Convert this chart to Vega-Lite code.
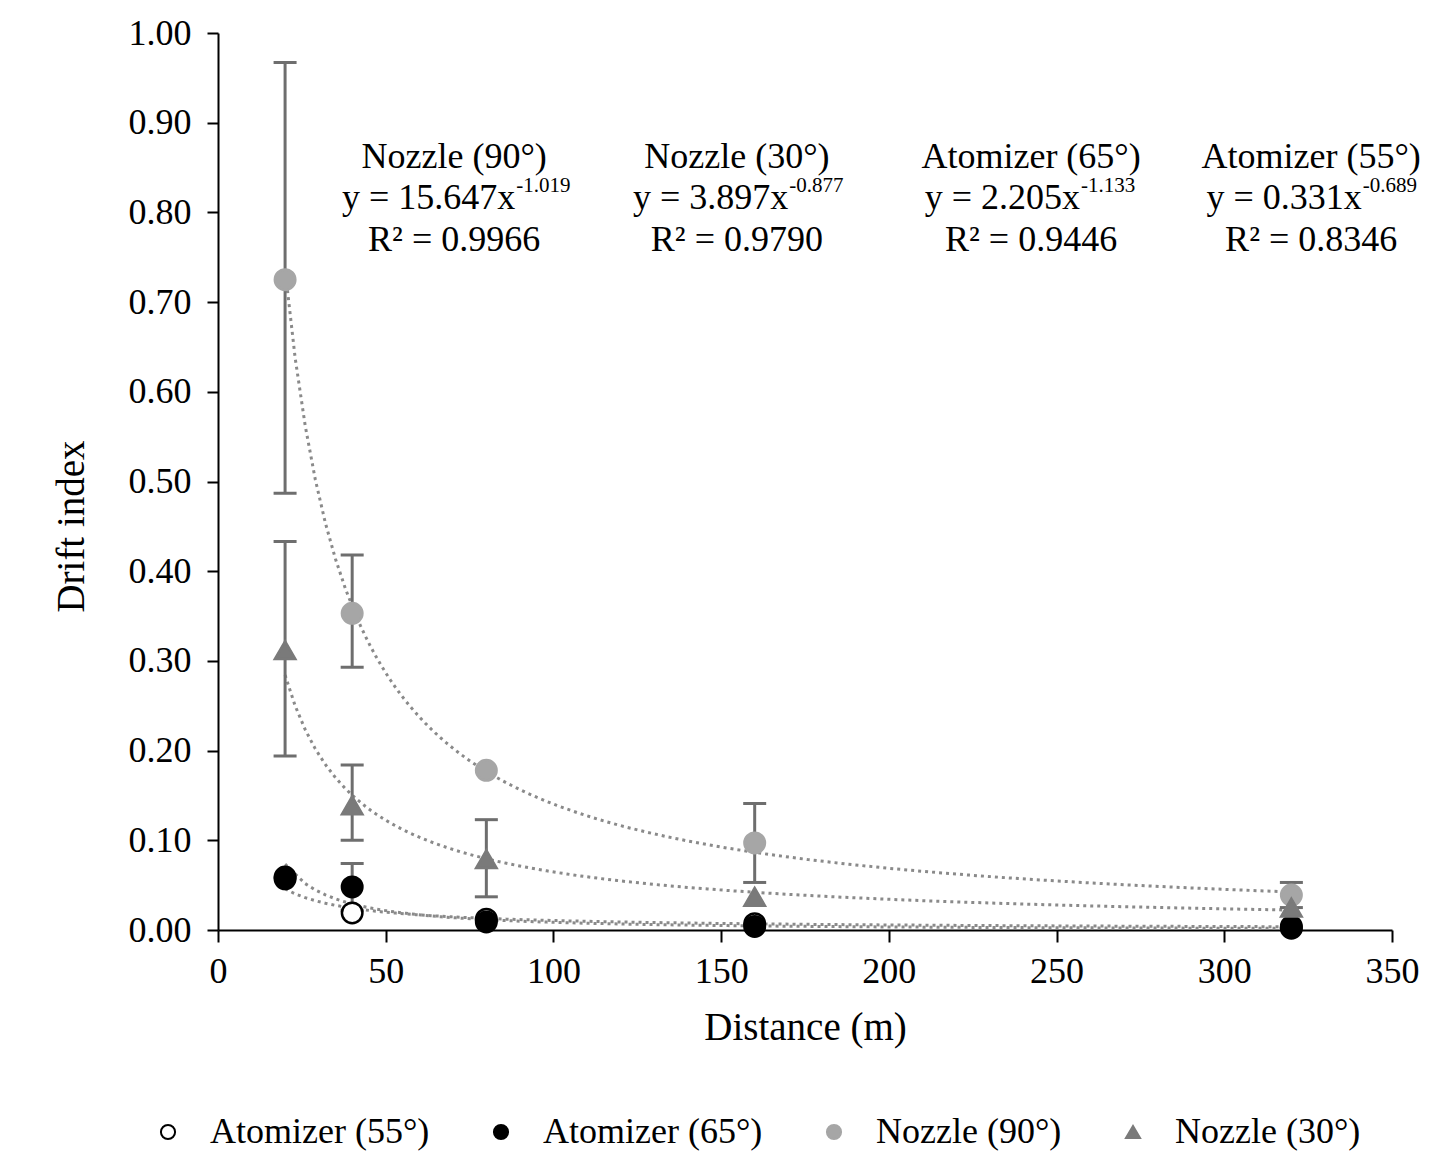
{
  "$schema": "https://vega.github.io/schema/vega-lite/v6.json",
  "width": 1174,
  "height": 897,
  "autosize": {"type": "none"},
  "padding": {"left": 218, "top": 33, "right": 63, "bottom": 221},
  "background": "white",
  "config": {
    "view": {"stroke": null},
    "font": "Liberation Serif",
    "axis": {
      "grid": false,
      "domainColor": "black",
      "domainWidth": 2,
      "tickColor": "black",
      "tickWidth": 2,
      "labelColor": "black",
      "labelFont": "Liberation Serif",
      "labelFontSize": 36,
      "labelFlush": false,
      "titleFont": "Liberation Serif",
      "titleFontSize": 39,
      "titleFontWeight": "normal",
      "titleColor": "black"
    },
    "legend": {
      "labelFont": "Liberation Serif",
      "labelFontSize": 36,
      "labelColor": "black",
      "labelLimit": 0,
      "symbolSize": 200,
      "symbolStrokeWidth": 2,
      "labelOffset": 24,
      "columnPadding": 53
    }
  },
  "datasets": {
    "points": [
      {"series": "Atomizer (55°)", "x": 20, "y": 0.057},
      {"series": "Atomizer (55°)", "x": 40, "y": 0.019},
      {"series": "Atomizer (55°)", "x": 80, "y": 0.012},
      {"series": "Atomizer (55°)", "x": 160, "y": 0.007},
      {"series": "Atomizer (55°)", "x": 320, "y": 0.004},
      {"series": "Atomizer (65°)", "x": 20, "y": 0.059},
      {"series": "Atomizer (65°)", "x": 40, "y": 0.048},
      {"series": "Atomizer (65°)", "x": 80, "y": 0.009},
      {"series": "Atomizer (65°)", "x": 160, "y": 0.004},
      {"series": "Atomizer (65°)", "x": 320, "y": 0.002},
      {"series": "Nozzle (90°)", "x": 20, "y": 0.725},
      {"series": "Nozzle (90°)", "x": 40, "y": 0.353},
      {"series": "Nozzle (90°)", "x": 80, "y": 0.178},
      {"series": "Nozzle (90°)", "x": 160, "y": 0.097},
      {"series": "Nozzle (90°)", "x": 320, "y": 0.039},
      {"series": "Nozzle (30°)", "x": 20, "y": 0.312},
      {"series": "Nozzle (30°)", "x": 40, "y": 0.139},
      {"series": "Nozzle (30°)", "x": 80, "y": 0.079},
      {"series": "Nozzle (30°)", "x": 160, "y": 0.037},
      {"series": "Nozzle (30°)", "x": 320, "y": 0.025}
    ],
    "errors": [
      {"series": "Nozzle (90°)", "x": 20, "lo": 0.487, "hi": 0.967},
      {"series": "Nozzle (90°)", "x": 40, "lo": 0.293, "hi": 0.418},
      {"series": "Nozzle (90°)", "x": 160, "lo": 0.053, "hi": 0.141},
      {"series": "Nozzle (90°)", "x": 320, "lo": 0.025, "hi": 0.053},
      {"series": "Nozzle (30°)", "x": 20, "lo": 0.194, "hi": 0.433},
      {"series": "Nozzle (30°)", "x": 40, "lo": 0.100, "hi": 0.184},
      {"series": "Nozzle (30°)", "x": 80, "lo": 0.037, "hi": 0.123},
      {"series": "Atomizer (65°)", "x": 40, "lo": 0.022, "hi": 0.074}
    ],
    "notesCenter": [
      {"x": 70.4, "y": 0.862, "text": "Nozzle (90°)"},
      {"x": 70.4, "y": 0.769, "text": "R² = 0.9966"},
      {"x": 154.7, "y": 0.862, "text": "Nozzle (30°)"},
      {"x": 154.7, "y": 0.769, "text": "R² = 0.9790"},
      {"x": 242.4, "y": 0.862, "text": "Atomizer (65°)"},
      {"x": 242.4, "y": 0.769, "text": "R² = 0.9446"},
      {"x": 325.9, "y": 0.862, "text": "Atomizer (55°)"},
      {"x": 325.9, "y": 0.769, "text": "R² = 0.8346"}
    ],
    "notesEq": [
      {"x": 88.6, "y": 0.816, "text": "y = 15.647x"},
      {"x": 170.0, "y": 0.816, "text": "y = 3.897x"},
      {"x": 257.0, "y": 0.816, "text": "y = 2.205x"},
      {"x": 341.0, "y": 0.816, "text": "y = 0.331x"}
    ],
    "notesSup": [
      {"x": 88.6, "y": 0.816, "text": "-1.019"},
      {"x": 170.0, "y": 0.816, "text": "-0.877"},
      {"x": 257.0, "y": 0.816, "text": "-1.133"},
      {"x": 341.0, "y": 0.816, "text": "-0.689"}
    ]
  },
  "layer": [
    {
      "data": {"name": "points"},
      "transform": [
        {"regression": "y", "on": "x", "groupby": ["series"], "method": "pow", "extent": [20, 320]}
      ],
      "mark": {"type": "line", "color": "#8a8a8a", "strokeWidth": 3, "strokeDash": [3, 4]},
      "encoding": {
        "x": {"field": "x", "type": "quantitative", "scale": {"domain": [0, 350], "nice": false},
          "axis": {"values": [0, 50, 100, 150, 200, 250, 300, 350], "title": "Distance (m)", "tickSize": 12, "labelPadding": 12, "titlePadding": 19}},
        "y": {"field": "y", "type": "quantitative", "scale": {"domain": [0, 1], "nice": false},
          "axis": {"values": [0, 0.1, 0.2, 0.3, 0.4, 0.5, 0.6, 0.7, 0.8, 0.9, 1.0], "format": ".2f", "title": "Drift index", "tickSize": 11, "labelPadding": 16, "titlePadding": 37, "titleY": 493}},
        "detail": {"field": "series"}
      }
    },
    {
      "data": {"name": "errors"},
      "mark": {"type": "rule", "color": "#6e6e6e", "strokeWidth": 3},
      "encoding": {
        "x": {"field": "x", "type": "quantitative"},
        "y": {"field": "lo", "type": "quantitative"},
        "y2": {"field": "hi"}
      }
    },
    {
      "data": {"name": "errors"},
      "mark": {"type": "tick", "orient": "horizontal", "color": "#6e6e6e", "size": 23, "thickness": 3, "opacity": 1},
      "encoding": {
        "x": {"field": "x", "type": "quantitative"},
        "y": {"field": "lo", "type": "quantitative"}
      }
    },
    {
      "data": {"name": "errors"},
      "mark": {"type": "tick", "orient": "horizontal", "color": "#6e6e6e", "size": 23, "thickness": 3, "opacity": 1},
      "encoding": {
        "x": {"field": "x", "type": "quantitative"},
        "y": {"field": "hi", "type": "quantitative"}
      }
    },
    {
      "data": {"name": "points"},
      "mark": {"type": "point", "size": 420, "strokeWidth": 2.5, "opacity": 1, "fillOpacity": 1},
      "encoding": {
        "x": {"field": "x", "type": "quantitative"},
        "y": {"field": "y", "type": "quantitative"},
        "shape": {"field": "series", "type": "nominal", "title": null,
          "scale": {"domain": ["Atomizer (55°)", "Atomizer (65°)", "Nozzle (90°)", "Nozzle (30°)"], "range": ["circle", "circle", "circle", "triangle-up"]},
          "legend": {"orient": "none", "legendX": -68, "legendY": 1081, "direction": "horizontal", "columns": 4}},
        "fill": {"field": "series", "type": "nominal", "title": null,
          "scale": {"domain": ["Atomizer (55°)", "Atomizer (65°)", "Nozzle (90°)", "Nozzle (30°)"], "range": ["#ffffff", "#000000", "#a6a6a6", "#7a7a7a"]},
          "legend": {"orient": "none", "legendX": -68, "legendY": 1081, "direction": "horizontal", "columns": 4}},
        "stroke": {"field": "series", "type": "nominal", "title": null,
          "scale": {"domain": ["Atomizer (55°)", "Atomizer (65°)", "Nozzle (90°)", "Nozzle (30°)"], "range": ["#000000", "#000000", "#a6a6a6", "#7a7a7a"]},
          "legend": {"orient": "none", "legendX": -68, "legendY": 1081, "direction": "horizontal", "columns": 4}}
      }
    },
    {
      "data": {"name": "notesCenter"},
      "mark": {"type": "text", "align": "center", "baseline": "middle", "fontSize": 36, "font": "Liberation Serif", "color": "black"},
      "encoding": {
        "x": {"field": "x", "type": "quantitative"},
        "y": {"field": "y", "type": "quantitative"},
        "text": {"field": "text"}
      }
    },
    {
      "data": {"name": "notesEq"},
      "mark": {"type": "text", "align": "right", "baseline": "middle", "fontSize": 36, "font": "Liberation Serif", "color": "black"},
      "encoding": {
        "x": {"field": "x", "type": "quantitative"},
        "y": {"field": "y", "type": "quantitative"},
        "text": {"field": "text"}
      }
    },
    {
      "data": {"name": "notesSup"},
      "mark": {"type": "text", "align": "left", "baseline": "middle", "fontSize": 21, "font": "Liberation Serif", "color": "black", "dx": 1, "dy": -12},
      "encoding": {
        "x": {"field": "x", "type": "quantitative"},
        "y": {"field": "y", "type": "quantitative"},
        "text": {"field": "text"}
      }
    }
  ]
}
